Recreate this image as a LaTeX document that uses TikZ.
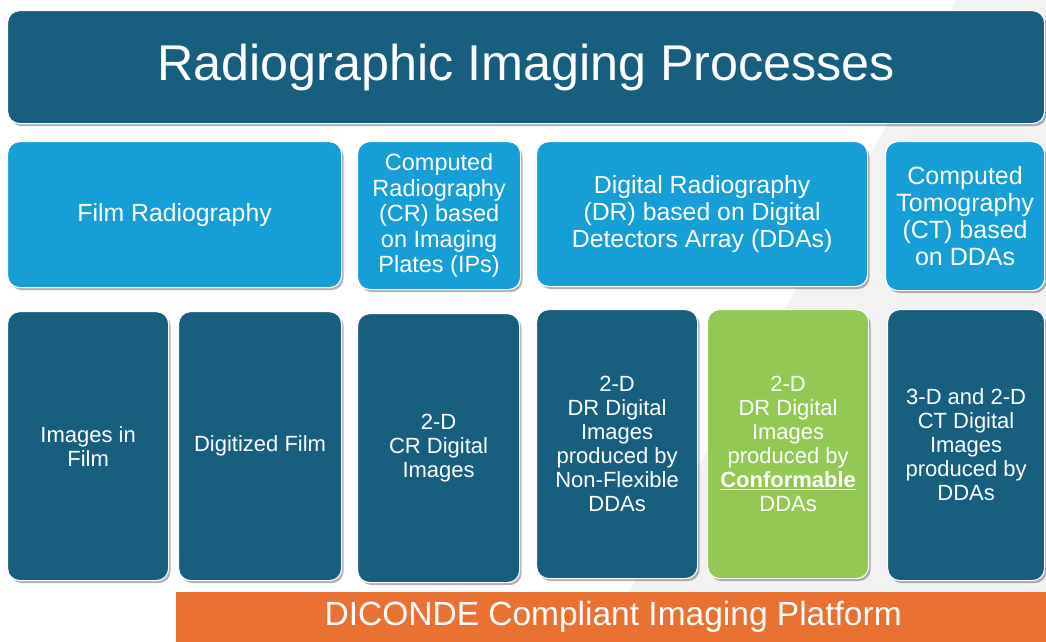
\documentclass[tikz,border=0pt]{standalone}
\usepackage{fontspec}
\setmainfont{Liberation Sans}
\usetikzlibrary{shadows}

\definecolor{darkteal}{HTML}{175E7F}
\definecolor{skyblue}{HTML}{169FD7}
\definecolor{leafgreen}{HTML}{92C853}
\definecolor{platorange}{HTML}{E97132}
\definecolor{swoosh}{HTML}{F2F2F2}

\tikzset{
  tile/.style={rectangle, rounded corners=12pt, draw=white, line width=1.2pt,
    text=white, align=center, inner sep=0pt, anchor=north west,
    drop shadow={shadow xshift=2pt, shadow yshift=-2.5pt, fill=black, opacity=.3}},
  group/.style={tile, fill=skyblue, font=\fontsize{24.8}{27}\selectfont},
  result/.style={tile, fill=darkteal, font=\fontsize{22}{24}\selectfont},
}

\begin{document}
\begin{tikzpicture}[x=1pt, y=-1pt]
	\clip (0,0) rectangle (1046,641);
	\fill[white] (0,0) rectangle (1046,641);
	\fill[swoosh] (956,0) -- (1046,0) -- (1046,641) -- (602,641) -- cycle;

	\node[tile, fill=darkteal, font=\fontsize{50.3}{55}\selectfont,
		minimum width=1037pt, minimum height=113pt] (title) at (7,10) {Radiographic Imaging Processes};

	% processes
	\node[group, minimum width=334pt, minimum height=146pt] (film) at (7,141) {Film Radiography};
	\node[group, font=\fontsize{23.5}{25.5}\selectfont, minimum width=163pt, minimum height=148pt]
		(cr) at (357,141) {Computed\\Radiography\\(CR) based\\on Imaging\\Plates (IPs)};
	\node[group, minimum width=331pt, minimum height=145pt] (dr) at (536,141)
		{Digital Radiography\\(DR) based on Digital\\Detectors Array (DDAs)};
	\node[group, font=\fontsize{25}{26.7}\selectfont, minimum width=159pt, minimum height=149pt]
		(ct) at (885,141) {Computed\\Tomography\\(CT) based\\on DDAs};

	% images
	\node[result, minimum width=161pt, minimum height=269pt] (imgfilm) at (7,311) {Images in\\Film};
	\node[result, minimum width=163pt, minimum height=269pt] (digfilm) at (178,311) {Digitized Film};
	\node[result, minimum width=162pt, minimum height=269pt] (crimg) at (357,313)
		{2-D\\CR Digital\\Images};
	\node[result, minimum width=161pt, minimum height=269pt] (drimg) at (536,309)
		{2-D\\DR Digital\\Images\\produced by\\Non-Flexible\\DDAs};
	\node[result, fill=leafgreen, minimum width=161pt, minimum height=269pt] (confimg) at (707,309)
		{2-D\\DR Digital\\Images\\produced by\\\underline{\textbf{Conformable}}\\DDAs};
	\node[result, minimum width=157pt, minimum height=271pt] (ctimg) at (887,309)
		{3-D and 2-D\\CT Digital\\Images\\produced by\\DDAs};

	\node[rectangle, fill=platorange, text=white, inner sep=0pt, anchor=north west,
		font=\fontsize{33.5}{36}\selectfont, minimum width=874pt, minimum height=50pt]
		(platform) at (176,592) {DICONDE Compliant Imaging Platform};
\end{tikzpicture}
\end{document}
